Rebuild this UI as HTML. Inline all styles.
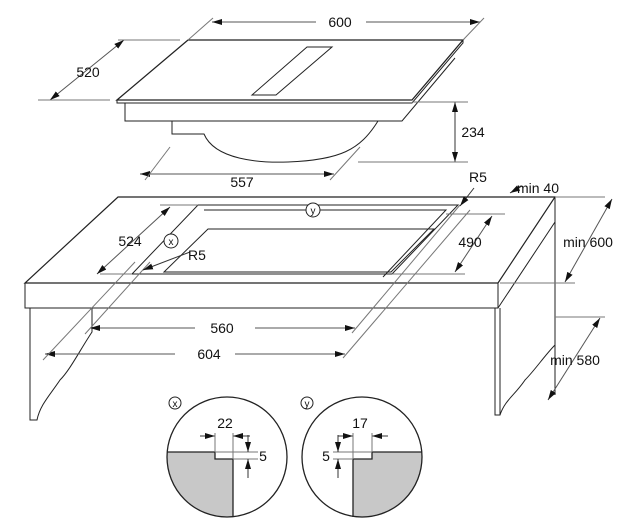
<!DOCTYPE html>
<html><head><style>html,body{margin:0;padding:0;background:#fff}svg{display:block}text{font-family:"Liberation Sans",sans-serif;font-size:14px;fill:#111}</style></head><body>
<svg width="626" height="526" viewBox="0 0 626 526" xmlns="http://www.w3.org/2000/svg">
<defs><marker id="a" markerWidth="10" markerHeight="6" refX="10" refY="3" orient="auto-start-reverse" markerUnits="userSpaceOnUse"><path d="M0,0 L10,3 L0,6z" fill="#111"/></marker></defs>
<g fill="none" stroke="#222" stroke-width="1">
<!-- hob -->
<path d="M188,40 L463,40 L412,100 L117,100 Z" stroke-width="1.3"/>
<path d="M117,100 L117,103 L412,103 L463,43 L463,40"/>
<path d="M307,47 L332,47 L276,95 L252,95 Z"/>
<path d="M125,103 L125,121 L402,121 L455,58"/>
<path d="M172,121 L172,134 L204,134 C215,160 260,163 288,162 C340,160 360,150 378,121"/>
<!-- hob dims -->
<line x1="212" y1="22" x2="480" y2="22" stroke="#555" marker-start="url(#a)" marker-end="url(#a)"/>
<line x1="188" y1="40" x2="213" y2="18" stroke="#777"/><line x1="463" y1="40" x2="484" y2="18" stroke="#777"/>
<line x1="50" y1="100" x2="124" y2="40" stroke="#555" marker-start="url(#a)" marker-end="url(#a)"/>
<line x1="38" y1="100" x2="110" y2="100" stroke="#777"/><line x1="118" y1="40" x2="180" y2="40" stroke="#777"/>
<line x1="455" y1="102" x2="455" y2="162" stroke="#333" marker-start="url(#a)" marker-end="url(#a)"/>
<line x1="412" y1="102" x2="468" y2="102" stroke="#777"/><line x1="358" y1="162" x2="468" y2="162" stroke="#777"/>
<line x1="140" y1="174" x2="334" y2="174" stroke="#555" marker-start="url(#a)" marker-end="url(#a)"/>
<line x1="145" y1="180" x2="170" y2="147" stroke="#777"/><line x1="330" y1="180" x2="360" y2="147" stroke="#777"/>
<!-- counter -->
<path d="M118,197 L555,197 L498,283 L25,283 Z" stroke-width="1.2"/>
<path d="M25,283 L25,308 L498,308 L498,283 M498,308 L555,222 M555,197 L555,395"/>
<path d="M30,308 L30,420 L37,420 C40,405 50,395 60,380 C70,370 80,350 92,332 L92,308"/>
<path d="M495,308 L495,415 L500,415 C505,400 515,395 525,380 C535,370 545,355 555,345"/>
<path d="M500,308 L500,415"/>
<!-- cutout -->
<path d="M198,205 L458,205 L392,274 L132,274 Z"/>
<path d="M204,210 L446,210 L383,277"/>
<path d="M208,229 L434,229 L391,272 L164,272 Z"/>
<line x1="100" y1="274" x2="132" y2="274" stroke="#777"/><line x1="392" y1="274" x2="465" y2="274" stroke="#777"/>
<line x1="160" y1="205" x2="198" y2="205" stroke="#777"/><line x1="446" y1="214" x2="505" y2="214" stroke="#777"/>
<line x1="97" y1="274" x2="170" y2="207" stroke="#555" marker-start="url(#a)" marker-end="url(#a)"/>
<line x1="455" y1="272" x2="492" y2="216" stroke="#555" marker-start="url(#a)" marker-end="url(#a)"/>
<line x1="565" y1="282" x2="612" y2="199" stroke="#555" marker-start="url(#a)" marker-end="url(#a)"/>
<line x1="500" y1="283" x2="575" y2="283" stroke="#777"/><line x1="555" y1="197" x2="605" y2="197" stroke="#777"/>
<line x1="548" y1="400" x2="600" y2="318" stroke="#555" marker-start="url(#a)" marker-end="url(#a)"/>
<line x1="555" y1="317" x2="605" y2="317" stroke="#777"/>
<line x1="90" y1="328" x2="355" y2="328" stroke="#555" marker-start="url(#a)" marker-end="url(#a)"/>
<line x1="45" y1="354" x2="345" y2="354" stroke="#555" marker-start="url(#a)" marker-end="url(#a)"/>
<line x1="352" y1="333" x2="460" y2="205" stroke="#777"/><line x1="343" y1="358" x2="470" y2="210" stroke="#777"/>
<line x1="85" y1="334" x2="150" y2="262" stroke="#777"/><line x1="43" y1="360" x2="135" y2="262" stroke="#777"/>
<line x1="510" y1="193" x2="522" y2="186" stroke="#333" marker-start="url(#a)"/>
<line x1="460" y1="206" x2="474" y2="188" stroke="#333" marker-start="url(#a)"/>
<line x1="143" y1="270" x2="190" y2="252" stroke="#333" marker-start="url(#a)"/>
<circle cx="171" cy="241" r="7" fill="#fff"/><circle cx="313" cy="210" r="7" fill="#fff"/>
<!-- details -->
<path d="M167,452 L215,452 L215,459 L233,459 L233,517 A60,60 0 0 1 167,452 Z" fill="#c8c8c8" stroke="none"/>
<path d="M353,459 L372,459 L372,452 L422,452 A60,60 0 0 1 353,517 Z" fill="#c8c8c8" stroke="none"/>
<circle cx="227" cy="457" r="60" stroke-width="1.3"/><circle cx="362" cy="457" r="60" stroke-width="1.3"/>
<path d="M167,452 L215,452 L215,459 L233,459 L233,517" stroke-width="1.3"/>
<path d="M422,452 L372,452 L372,459 L353,459 L353,517" stroke-width="1.3"/>
<circle cx="175" cy="403" r="6"/><circle cx="307" cy="403" r="6"/>
<line x1="200" y1="436" x2="215" y2="436" stroke="#333" marker-end="url(#a)"/><line x1="250" y1="436" x2="233" y2="436" stroke="#333" marker-end="url(#a)"/>
<line x1="215" y1="433" x2="215" y2="452" stroke="#777"/><line x1="233" y1="433" x2="233" y2="459" stroke="#777"/>
<line x1="215" y1="452" x2="258" y2="452" stroke="#777"/><line x1="233" y1="459" x2="258" y2="459" stroke="#777"/>
<line x1="248" y1="435" x2="248" y2="452" stroke="#333" marker-end="url(#a)"/><line x1="248" y1="478" x2="248" y2="459" stroke="#333" marker-end="url(#a)"/>
<line x1="338" y1="436" x2="353" y2="436" stroke="#333" marker-end="url(#a)"/><line x1="388" y1="436" x2="372" y2="436" stroke="#333" marker-end="url(#a)"/>
<line x1="353" y1="433" x2="353" y2="459" stroke="#777"/><line x1="372" y1="433" x2="372" y2="452" stroke="#777"/>
<line x1="333" y1="452" x2="372" y2="452" stroke="#777"/><line x1="333" y1="459" x2="353" y2="459" stroke="#777"/>
<line x1="338" y1="435" x2="338" y2="452" stroke="#333" marker-end="url(#a)"/><line x1="338" y1="478" x2="338" y2="459" stroke="#333" marker-end="url(#a)"/>
</g>
<rect x="316" y="14" width="50" height="16" fill="#fff"/>
<text x="340" y="27" text-anchor="middle">600</text>
<text x="88" y="77" text-anchor="middle">520</text>
<text x="473" y="137" text-anchor="middle">234</text>
<text x="242" y="187" text-anchor="middle">557</text>
<text x="478" y="182" text-anchor="middle">R5</text>
<text x="538" y="193" text-anchor="middle">min 40</text>
<text x="130" y="246" text-anchor="middle">524</text>
<text x="470" y="247" text-anchor="middle">490</text>
<text x="588" y="247" text-anchor="middle">min 600</text>
<text x="197" y="260" text-anchor="middle">R5</text>
<text x="575" y="365" text-anchor="middle">min 580</text>
<rect x="195" y="318" width="60" height="18" fill="#fff"/><text x="222" y="333" text-anchor="middle">560</text>
<rect x="175" y="344" width="60" height="18" fill="#fff"/><text x="209" y="359" text-anchor="middle">604</text>
<text x="171" y="245" text-anchor="middle" style="font-size:10px">x</text>
<text x="313" y="214" text-anchor="middle" style="font-size:10px">y</text>
<text x="175" y="407" text-anchor="middle" style="font-size:10px">x</text>
<text x="307" y="407" text-anchor="middle" style="font-size:10px">y</text>
<text x="225" y="428" text-anchor="middle">22</text>
<text x="263" y="461" text-anchor="middle">5</text>
<text x="360" y="428" text-anchor="middle">17</text>
<text x="326" y="461" text-anchor="middle">5</text>
</svg>
</body></html>
